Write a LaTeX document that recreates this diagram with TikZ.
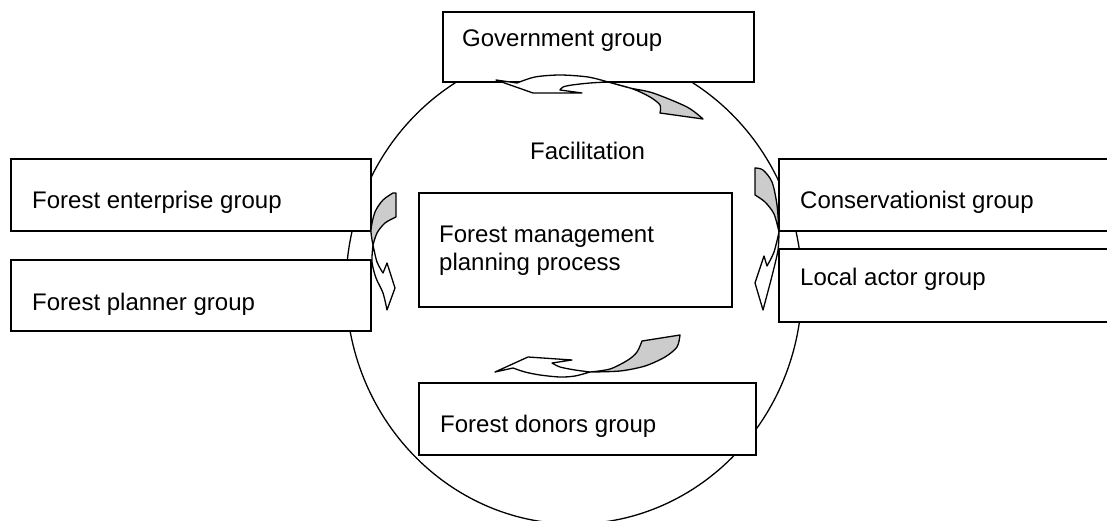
\documentclass[tikz,border=0pt]{standalone}
\usepackage{fontspec}
\setmainfont{Liberation Sans}
\begin{document}
\begin{tikzpicture}[x=1pt,y=-1pt,
  box/.style={draw, fill=white, line width=1.5pt, inner sep=0pt, outer sep=0pt, anchor=north west},
  lbl/.style={anchor=base west, inner sep=0pt, font=\fontsize{24}{28}\selectfont},
  arrw/.style={draw, line width=1.3pt, fill=white, line join=round},
  arrg/.style={arrw, fill=black!20}]
\useasboundingbox (0,0) rectangle (1107,521);
\clip (0,0) rectangle (1107,521);
% big ellipse
\draw[line width=1.3pt] (574,286) ellipse [x radius=228pt, y radius=238pt];
% boxes
\node[box, minimum width=311pt, minimum height=70pt] (gov) at (443,12) {};
\node[box, minimum width=360pt, minimum height=72pt] (ent) at (11,159) {};
\node[box, minimum width=360pt, minimum height=71pt] (plan) at (11,260) {};
\node[box, minimum width=341pt, minimum height=72pt] (cons) at (779,159) {};
\node[box, minimum width=341pt, minimum height=73pt, line width=2pt] (local) at (779,249) {};
\node[box, minimum width=313pt, minimum height=114pt] (center) at (419,193) {};
\node[box, minimum width=337pt, minimum height=72pt] (donors) at (419,383) {};
% top arrow
\path[arrw] (496,80) -- (517,83)
  -- plot[smooth] coordinates {(517,83) (535,77) (560,75) (588,77) (608,82)}
  -- plot[smooth] coordinates {(608,82) (590,83) (572,85) (563,87) (560,90)}
  -- (582,93) -- (533,93) -- cycle;
\path[arrg] (608,82)
  -- plot[smooth] coordinates {(608,82) (630,88) (653,93) (687,107) (703,119)}
  -- (660,113)
  -- plot[smooth] coordinates {(660,113) (660,105) (650,97) (633,89) (608,82)} -- cycle;
% bottom arrow
\path[arrw] (495,372) -- (528,357) -- (572,360) -- (552,363)
  -- plot[smooth] coordinates {(552,363) (560,367) (575,370) (590,372)}
  -- plot[smooth] coordinates {(590,372) (575,376) (560,377) (540,375) (525,372) (513,368)}
  -- cycle;
\path[arrg] (590,372)
  -- plot[smooth] coordinates {(590,372) (610,369) (628,360) (637,352) (642,341)}
  -- (680,335)
  -- plot[smooth] coordinates {(680,335) (677,347) (665,357) (645,366) (620,371) (590,372)} -- cycle;
% left arrow
\path[arrg] (393,193) -- (396,193) -- (396,217)
  -- plot[smooth] coordinates {(396,217) (385,223) (377,233) (373,245)}
  -- plot[smooth] coordinates {(373,245) (371,230) (375,212) (383,200) (393,193)} -- cycle;
\path[arrw] (373,245)
  -- plot[smooth] coordinates {(373,245) (372,262) (376,278) (383,293) (387,310)}
  -- (395,288) -- (387,263) -- (383,273)
  -- plot[smooth] coordinates {(383,273) (377,262) (373,245)} -- cycle;
% right arrow
\path[arrg] (755,168)
  -- plot[smooth] coordinates {(755,168) (763,170) (772,182) (777,205) (779,232)}
  -- plot[smooth] coordinates {(779,232) (774,214) (765,202) (755,195)} -- cycle;
\path[arrw] (779,232)
  -- plot[smooth] coordinates {(779,232) (778,250) (773,272) (767,295) (763,310)}
  -- (755,283) -- (764,256) -- (767,266)
  -- plot[smooth] coordinates {(767,266) (774,252) (779,232)} -- cycle;
% texts
\node[lbl] (tgov) at (462,47) {Government group};
\node[lbl] (tfac) at (530,160) {Facilitation};
\node[lbl] (tent) at (32,209) {Forest enterprise group};
\node[lbl] (tplan) at (32,310) {Forest planner group};
\node[lbl] (tcons) at (800,209) {Conservationist group};
\node[lbl] (tlocal) at (800,285) {Local actor group};
\node[lbl] (tc1) at (439,243) {Forest management};
\node[lbl] (tc2) at (439,270) {planning process};
\node[lbl] (tdon) at (440,432) {Forest donors group};
\end{tikzpicture}
\end{document}
